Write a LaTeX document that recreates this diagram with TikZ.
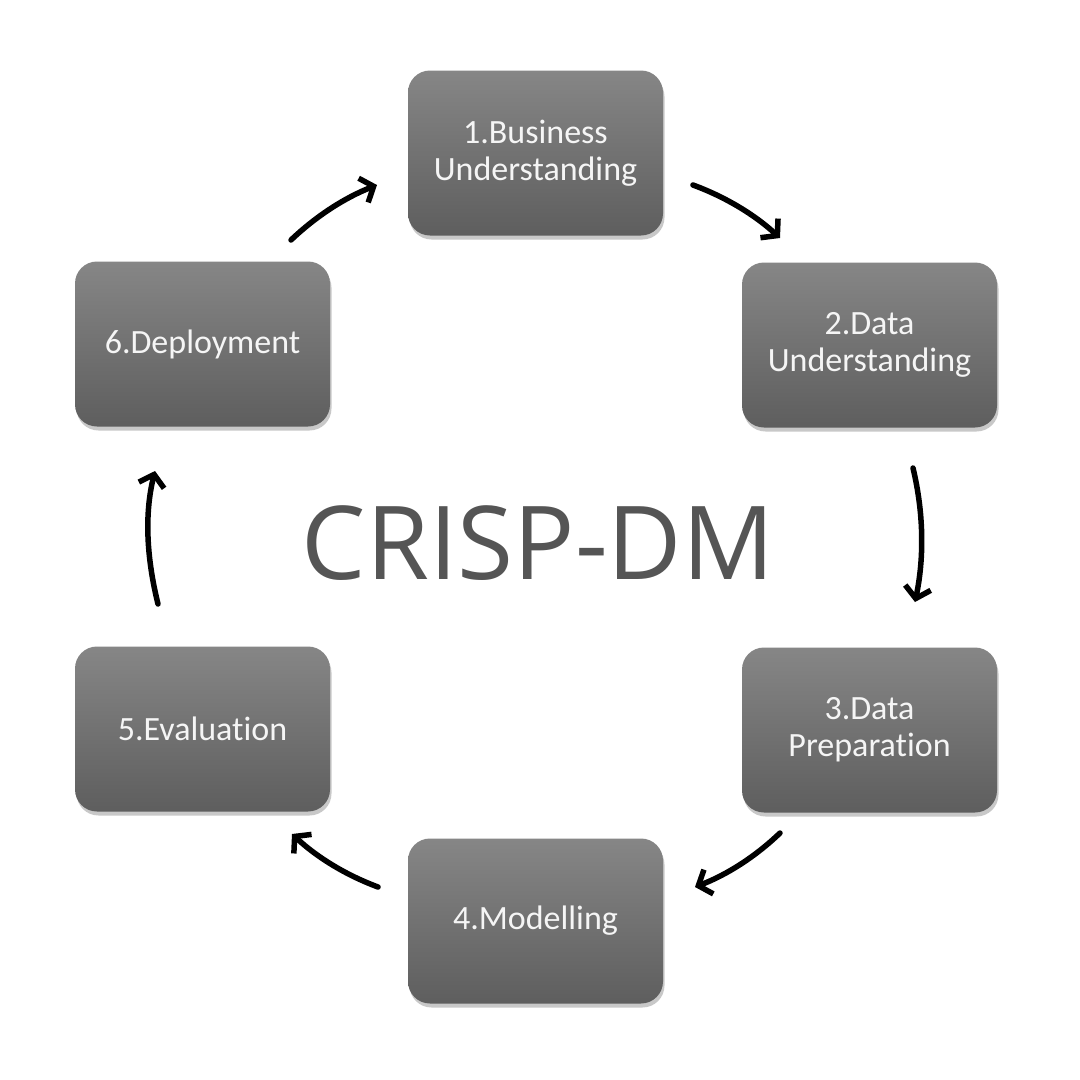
\documentclass[tikz,border=0pt]{standalone}
\usepackage{fontspec}
\usetikzlibrary{arrows.meta,shadows}
\newfontfamily\boxfont[Ligatures=NoCommon]{Carlito}
\newfontfamily\titlefont{Open Sans}
\definecolor{boxtop}{HTML}{868686}
\definecolor{boxbot}{HTML}{5E5E5E}
\definecolor{titlegray}{HTML}{555555}
\tikzset{
  phase/.style={rectangle, rounded corners=22pt, minimum width=255pt, minimum height=165pt,
    top color=boxtop, bottom color=boxbot, draw=none, text=white!96!black, align=center,
    font=\boxfont\fontsize{34}{37}\selectfont,
    drop shadow={shadow xshift=1.5pt, shadow yshift=-4pt, opacity=0.3, fill=black!70}},
  cyc/.style={line width=5.5pt, line cap=round, draw=black,
    -{Straight Barb[length=11pt,width=26pt,line width=5.5pt]}}
}
\begin{document}
\begin{tikzpicture}[x=1pt,y=-1pt]
\path[fill=white] (0,0) rectangle (1080,1080);
\useasboundingbox (0,0) rectangle (1080,1080);
\node[phase] (b1) at (535.5,153) {1.Business\\Understanding};
\node[phase] (b2) at (869.5,345) {2.Data\\Understanding};
\node[phase] (b3) at (869.5,730) {3.Data\\Preparation};
\node[phase] (b4) at (535.5,921) {4.Modelling};
\node[phase] (b5) at (202.5,729) {5.Evaluation};
\node[phase] (b6) at (202.5,344) {6.Deployment};
\node[font=\titlefont\fontsize{102}{110}\selectfont, text=titlegray] (title) at (538,543) {CRISP-DM};
% arrow end points
\coordinate (a61s) at (291,240); \coordinate (a61e) at (377,185);
\coordinate (a12s) at (693,185); \coordinate (a12e) at (780,238);
\coordinate (a23s) at (913,468); \coordinate (a23e) at (915,602);
\coordinate (a34s) at (780,833); \coordinate (a34e) at (695,887);
\coordinate (a45s) at (378,887); \coordinate (a45e) at (292,834);
\coordinate (a56s) at (158,604); \coordinate (a56e) at (155,471);
\draw[cyc] (a61s) .. controls (316.1,216.1) and (344.7,197.7) .. (a61e);
\draw[cyc] (a12s) .. controls (725.5,197) and (754.5,214.6) .. (a12e);
\draw[cyc] (a23s) .. controls (923.7,512.7) and (924.3,557.3) .. (a23e);
\draw[cyc] (a34s) .. controls (755.3,856.7) and (726.9,874.7) .. (a34e);
\draw[cyc] (a45s) .. controls (345.8,875) and (317.2,857.4) .. (a45e);
\draw[cyc] (a56s) .. controls (147,559.7) and (144,515.3) .. (a56e);
\end{tikzpicture}
\end{document}
